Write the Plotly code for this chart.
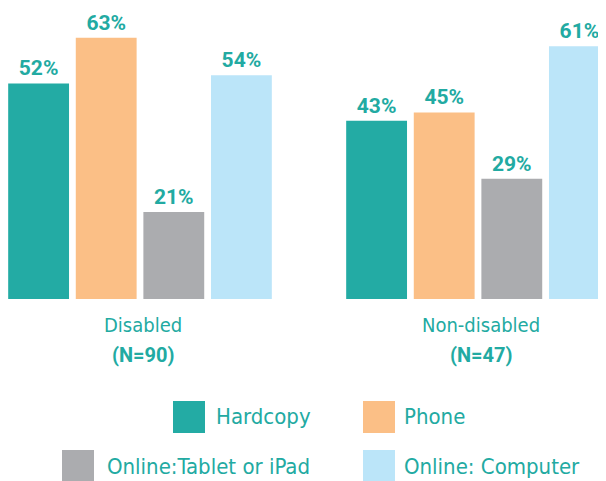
import plotly.graph_objects as go

# ---- data ----
groups = ["Disabled", "Non-disabled"]
group_n = ["(N=90)", "(N=47)"]
series_names = ["Hardcopy", "Phone", "Online:Tablet or iPad", "Online: Computer"]
hardcopy = [52, 43]
phone = [63, 45]
tablet = [21, 29]
computer = [54, 61]
series_values = [hardcopy, phone, tablet, computer]
colors = ["#23aba4", "#fbbf86", "#abacaf", "#bbe5f9"]

TEXT = "#22aaa2"
REG = "DejaVu Sans Condensed, Liberation Sans Narrow, sans-serif"
BOLD = "Roboto, DejaVu Sans Condensed, sans-serif"

W, H = 606, 481
OFF = 8            # page body margin in the viewer
BASE = 299 - OFF   # baseline pixel row in figure coords

fig = go.Figure()
for name, vals, col in zip(series_names, series_values, colors):
    fig.add_trace(go.Bar(
        x=groups, y=vals, name=name, marker_color=col, marker_line_width=0,
        texttemplate="%{y}%", textposition="outside",
        textfont=dict(family=BOLD, size=21, color=TEXT, weight="bold"),
        cliponaxis=False, showlegend=False,
    ))

x0 = -(140 - OFF) / 338
fig.update_layout(
    width=W, height=H,
    margin=dict(l=0, r=0, t=0, b=H - BASE, pad=0),
    paper_bgcolor="white", plot_bgcolor="white",
    barmode="group", bargap=0.2, bargroupgap=0.1,
    xaxis=dict(range=[x0, x0 + W / 338], showticklabels=False, showgrid=False,
               zeroline=False, showline=False, ticks=""),
    yaxis=dict(range=[0, BASE / 4.145], visible=False),
    showlegend=False,
)

def py(p):  # reference pixel row -> paper y
    return (BASE - (p - OFF)) / BASE

def px(p):  # reference pixel column -> paper x
    return (p - OFF) / W

# category labels
for g, n in zip(groups, group_n):
    fig.add_annotation(x=g, y=py(325), xref="x", yref="paper", text=g, showarrow=False,
                       xshift=3, yanchor="middle",
                       font=dict(family=REG, size=20, color=TEXT))
    fig.add_annotation(x=g, y=py(355), xref="x", yref="paper", text="<b>" + n + "</b>",
                       showarrow=False, xshift=3, yanchor="middle",
                       font=dict(family=BOLD, size=20, color=TEXT))

# legend (manual, 2x2)
leg = [  # swatch left, swatch top, text left (reference pixels)
    (173, 401, 214),
    (363, 401, 402),
    (62, 450, 105),
    (363, 450, 402),
]
for (sx, sy, tx), name, col in zip(leg, series_names, colors):
    fig.add_shape(type="rect", xref="paper", yref="paper",
                  x0=px(sx), x1=px(sx + 32), y0=py(sy + 32), y1=py(sy),
                  fillcolor=col, line_width=0)
    fig.add_annotation(x=px(tx), y=py(sy + 16), xref="paper", yref="paper", text=name,
                       showarrow=False, xanchor="left", yanchor="middle",
                       font=dict(family=REG, size=22, color=TEXT))

fig.write_html("out.html")
